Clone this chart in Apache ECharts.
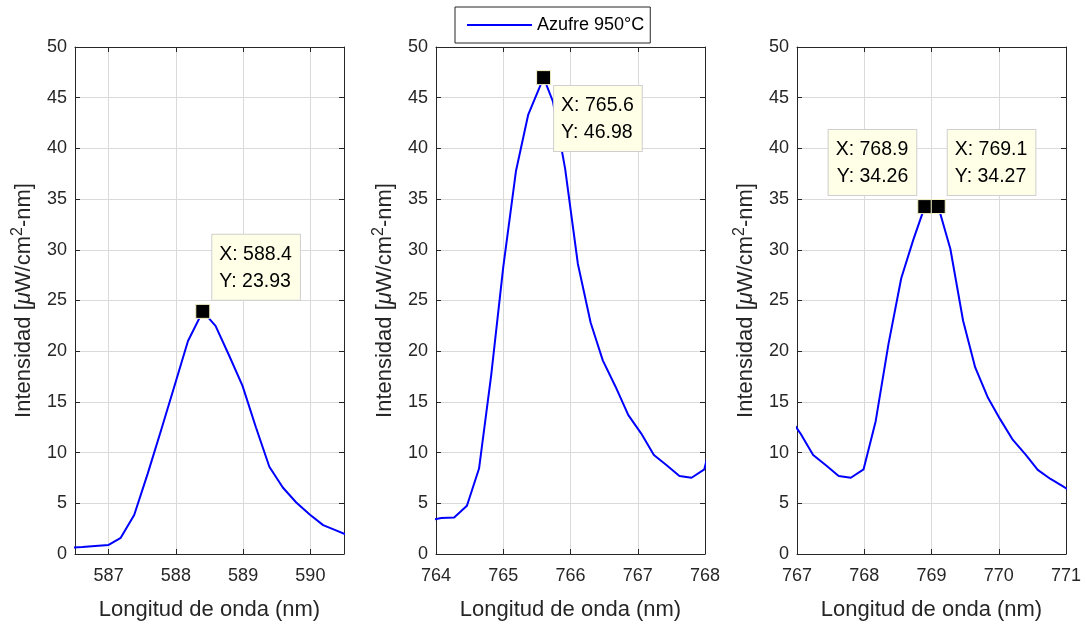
<!DOCTYPE html>
<html>
<head>
<meta charset="utf-8">
<script src="https://cdn.jsdelivr.net/npm/echarts@6/dist/echarts.min.js"></script>
<style>html,body{margin:0;padding:0;background:#fff}#c{width:1086px;height:626px}</style>
</head>
<body>
<div id="c"></div>
<script>
// ---------- data ----------
const seriesName = 'Azufre 950°C';
const xTitle = 'Longitud de onda (nm)';
const yTitle = 'Intensidad [{mu|μ}W/cm{sup|2}-nm]';

// spectrum around 588 nm (panel 1)
const specAX = [586.4, 586.61, 586.8, 587.0, 587.18, 587.38, 587.58, 587.78, 587.98, 588.18, 588.4, 588.59, 588.79, 588.99, 589.19, 589.39, 589.59, 589.79, 589.99, 590.19, 590.39, 590.59];
const specAY = [0.62, 0.7, 0.8, 0.89, 1.6, 3.84, 7.9, 12.2, 16.6, 21.0, 23.93, 22.5, 19.6, 16.6, 12.5, 8.6, 6.56, 5.08, 3.9, 2.85, 2.3, 1.75];

// spectrum around 764-771 nm (panels 2 and 3)
const specBX = [763.9, 764.08, 764.27, 764.46, 764.64, 764.82, 765.0, 765.19, 765.37, 765.6, 765.74, 765.92, 766.11, 766.3, 766.48, 766.67, 766.86, 767.05, 767.24, 767.43, 767.62, 767.8, 767.99, 768.17, 768.36, 768.55, 768.73, 768.9, 769.1, 769.28, 769.47, 769.65, 769.84, 770.02, 770.21, 770.4, 770.58, 770.77, 770.95, 771.14];
const specBY = [3.3, 3.55, 3.6, 4.76, 8.43, 17.6, 28.3, 37.8, 43.3, 46.98, 44.6, 38.0, 28.6, 22.8, 19.1, 16.5, 13.7, 11.9, 9.77, 8.75, 7.7, 7.52, 8.35, 13.1, 20.7, 27.2, 31.0, 34.26, 34.27, 30.1, 23.0, 18.4, 15.4, 13.3, 11.25, 9.8, 8.3, 7.4, 6.7, 5.9];

const panelXRange = [[586.5, 590.5], [764, 768], [767, 771]];
const panelSpec = [[specAX, specAY], [specBX, specBY], [specBX, specBY]];

// data tips: [x, y]
const tipsX = [[588.4], [765.6], [768.9, 769.1]];
const tipsY = [[23.93], [46.98], [34.26, 34.27]];
const tipPlace = [['ur'], ['lr'], ['ul', 'ur']];

// ---------- style ----------
const FONT = '"Liberation Sans", Arial, Helvetica, sans-serif';
const INK = '#262626';
const GRIDC = '#dadada';
const BLUE = '#0000ff';
const gridLeft = [75, 436, 797];
const gridW = 269, gridTop = 47, gridH = 508;

const placeCfg = {
  ur: { position: [17, -4], align: 'left', verticalAlign: 'bottom' },
  lr: { position: [18, 16], align: 'left', verticalAlign: 'top' },
  ul: { position: [-1, -4], align: 'right', verticalAlign: 'bottom' }
};

const grids = [], xAxes = [], yAxes = [], series = [];
for (let p = 0; p < 3; p++) {
  grids.push({ left: gridLeft[p], top: gridTop, width: gridW, height: gridH, containLabel: false });
  const [xmin, xmax] = panelXRange[p];
  const xBase = {
    type: 'value', gridIndex: p, min: xmin, max: xmax,
    axisLine: { show: true, onZero: false, lineStyle: { color: INK, width: 1 } },
    axisTick: { show: true, inside: true, length: 5, lineStyle: { color: INK, width: 1 } }
  };
  if (xmin % 1 === 0) xBase.interval = 1;
  xAxes.push(Object.assign({}, xBase, {
    position: 'bottom',
    splitLine: { show: true, lineStyle: { color: GRIDC, width: 1 } },
    axisLabel: { fontFamily: FONT, fontSize: 18, color: INK, margin: 13,
      formatter: v => (Math.abs(v - Math.round(v)) < 1e-9 ? String(Math.round(v)) : '') },
    name: xTitle, nameLocation: 'middle', nameGap: 45,
    nameTextStyle: { fontFamily: FONT, fontSize: 22, color: INK }
  }));
  yAxes.push({
    type: 'value', gridIndex: p, min: 0, max: 50, interval: 5,
    axisLine: { show: true, onZero: false, lineStyle: { color: INK, width: 1 } },
    axisTick: { show: true, inside: true, length: 5, lineStyle: { color: INK, width: 1 } },
    position: 'left',
    splitLine: { show: true, lineStyle: { color: GRIDC, width: 1 } },
    axisLabel: { fontFamily: FONT, fontSize: 18, color: INK, margin: 8 },
    name: yTitle, nameLocation: 'middle', nameGap: 37, nameRotate: 90,
    nameTextStyle: {
      fontFamily: FONT, fontSize: 22, color: INK, lineHeight: 28,
      rich: {
        mu: { fontFamily: FONT, fontSize: 22, fontStyle: 'italic', color: INK, lineHeight: 28 },
        sup: { fontFamily: FONT, fontSize: 16, color: INK, lineHeight: 16, verticalAlign: 'top' }
      }
    }
  });
}
for (let p = 0; p < 3; p++) {
  const [xmin, xmax] = panelXRange[p];
  const xTop = {
    type: 'value', gridIndex: p, min: xmin, max: xmax, position: 'top',
    axisLine: { show: true, onZero: false, lineStyle: { color: INK, width: 1 } },
    axisTick: { show: true, inside: true, length: 5, lineStyle: { color: INK, width: 1 } },
    axisLabel: { show: false }, splitLine: { show: false }
  };
  if (xmin % 1 === 0) xTop.interval = 1;
  xAxes.push(xTop);
  yAxes.push({
    type: 'value', gridIndex: p, min: 0, max: 50, interval: 5, position: 'right',
    axisLine: { show: true, onZero: false, lineStyle: { color: INK, width: 1 } },
    axisTick: { show: true, inside: true, length: 5, lineStyle: { color: INK, width: 1 } },
    axisLabel: { show: false }, splitLine: { show: false }
  });
}

for (let p = 0; p < 3; p++) {
  const [xs, ys] = panelSpec[p];
  const data = xs.map((x, i) => [x, ys[i]]);
  const mp = tipsX[p].map((tx, i) => {
    const ty = tipsY[p][i];
    const pc = placeCfg[tipPlace[p][i]];
    return {
      coord: [tx, ty],
      label: {
        show: true,
        position: pc.position, align: pc.align, verticalAlign: pc.verticalAlign,
        formatter: 'X: ' + tx.toFixed(1) + '\nY: ' + ty.toFixed(2),
        fontFamily: FONT, fontSize: 19.5, color: '#000', lineHeight: 27,
        backgroundColor: '#ffffe8', borderColor: '#cfcfcf', borderWidth: 1,
        padding: [6, 8, 5, 7]
      }
    };
  });
  series.push({
    name: seriesName, type: 'line', xAxisIndex: p, yAxisIndex: p,
    data: data, showSymbol: false, symbol: 'none', clip: true, animation: false,
    lineStyle: { color: BLUE, width: 2 }, itemStyle: { color: BLUE },
    markPoint: {
      animation: false, silent: true,
      symbol: 'rect', symbolSize: 14,
      itemStyle: { color: '#000', borderColor: '#f4f4c8', borderWidth: 1 },
      data: mp
    }
  });
}

const chart = echarts.init(document.getElementById('c'), null, { renderer: 'canvas' });
chart.setOption({
  animation: false,
  backgroundColor: '#ffffff',
  legend: {
    data: [{ name: seriesName, icon: 'rect' }], left: 455, top: 7,
    padding: [9, 6, 9, 12], itemWidth: 65, itemHeight: 2, itemGap: 5,
    borderColor: INK, borderWidth: 1, backgroundColor: '#fff',
    textStyle: { fontFamily: FONT, fontSize: 18, color: '#000', lineHeight: 17 },
    selectedMode: false
  },
  grid: grids, xAxis: xAxes, yAxis: yAxes, series: series
});
</script>
</body>
</html>
